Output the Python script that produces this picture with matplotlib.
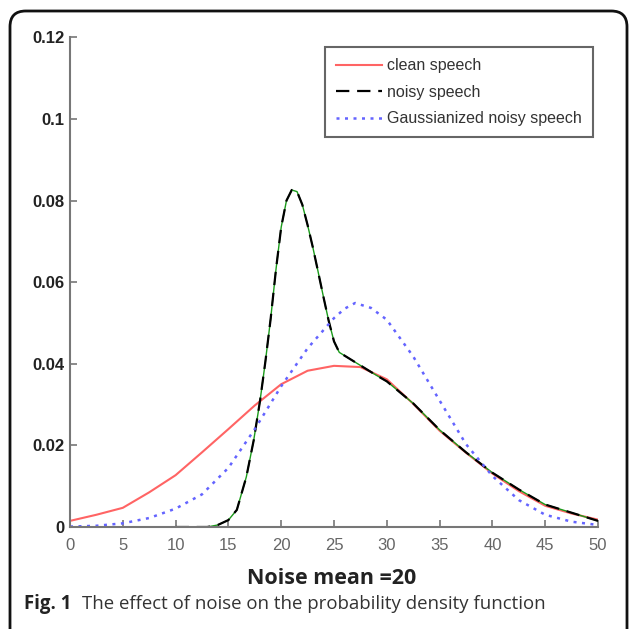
import numpy as np
import matplotlib
matplotlib.use("Agg")
import matplotlib.pyplot as plt
from matplotlib.patches import FancyBboxPatch
from matplotlib import font_manager

# data
clean_x = [0, 2.5, 5, 7.5, 10, 12.5, 15, 17.5, 20, 22.5, 25, 27.5, 30,
           32.5, 35, 37.5, 40, 42.5, 45, 47.5, 50]
clean_y = [0.0015, 0.003, 0.0047, 0.0085, 0.0127, 0.0183, 0.0240, 0.0298,
           0.0350, 0.0383, 0.0395, 0.0392, 0.0362, 0.0302, 0.0236, 0.0182,
           0.0131, 0.0088, 0.0052, 0.0033, 0.0018]

noisy_x = [10, 11, 12, 13, 14, 15, 15.8, 16.7, 17.4, 18, 18.5, 19, 19.5, 20,
           20.5, 21, 21.5, 22, 22.5, 23, 23.5, 24, 24.5, 25, 25.5, 26, 27,
           28, 29, 30, 32.5, 35, 37.5, 40, 42.5, 45, 47.5, 50]
noisy_y = [0.0, 0.0, 0.0, 0.0, 0.0005, 0.0017, 0.0042, 0.0123, 0.0213,
           0.0310, 0.0405, 0.0510, 0.0630, 0.0735, 0.0800, 0.0826, 0.0822,
           0.0790, 0.0740, 0.0685, 0.0625, 0.0564, 0.0505, 0.0455, 0.0428,
           0.0420, 0.0404, 0.0388, 0.0372, 0.0357, 0.0303, 0.0238, 0.0183,
           0.0133, 0.0092, 0.0055, 0.0035, 0.0015]

gauss_x = [0, 2.5, 5, 7.5, 10, 12.5, 15, 17.5, 20, 22.5, 25, 26, 27, 28.5,
           30, 32.5, 35, 37.5, 40, 42.5, 45, 47.5, 50]
gauss_y = [0.0001, 0.0003, 0.0009, 0.0022, 0.0045, 0.0080, 0.0145, 0.0240,
           0.0345, 0.0438, 0.0512, 0.0535, 0.0549, 0.0537, 0.0508, 0.0418,
           0.0310, 0.0203, 0.0125, 0.0066, 0.0030, 0.0013, 0.0005]

yticks = [0, 0.02, 0.04, 0.06, 0.08, 0.1, 0.12]
ytick_labels = ['0', '0.02', '0.04', '0.06', '0.08', '0.1', '0.12']
xticks = [0, 5, 10, 15, 20, 25, 30, 35, 40, 45, 50]

names = {f.name for f in font_manager.fontManager.ttflist}
narrow = 'Liberation Sans Narrow' if 'Liberation Sans Narrow' in names else 'Liberation Sans'

fig = plt.figure(figsize=(6.29, 6.29), dpi=100)
ax = fig.add_axes([70/629, 1 - 527/629, 528/629, 489.6/629])

ax.plot(clean_x, clean_y, color='#ff6464', lw=1.5, label='clean speech')
ax.plot(noisy_x, noisy_y, color='#1a9a1a', lw=1.0)
ax.plot(noisy_x, noisy_y, color='black', lw=1.6, ls=(0, (6, 3.5)), label='noisy speech')
ax.plot(gauss_x, gauss_y, color='#6464ff', lw=1.8, ls=(0, (1.2, 2.2)),
        label='Gaussianized noisy speech')

ax.set_xlim(0, 50)
ax.set_ylim(0, 0.12)
ax.set_xticks(xticks)
ax.set_yticks(yticks)
ax.set_yticklabels(ytick_labels)
for s in ['top', 'right']:
    ax.spines[s].set_visible(False)
for s in ['left', 'bottom']:
    ax.spines[s].set_color('#777777')
    ax.spines[s].set_linewidth(1.5)
ax.tick_params(direction='in', length=5, width=1.2, color='#777777')
ax.tick_params(axis='x', pad=8, labelsize=12, labelcolor='#666666')
ax.tick_params(axis='y', pad=4, labelsize=12, labelcolor='#222222')
for t in ax.get_xticklabels():
    t.set_family(narrow)
for t in ax.get_yticklabels():
    t.set_family(narrow)
    t.set_fontweight('bold')

leg = ax.legend(loc='upper right', bbox_to_anchor=(593/629, 1 - 47/629),
                bbox_transform=fig.transFigure, fancybox=False,
                prop={'family': narrow, 'size': 11.5}, handlelength=2.9,
                handletextpad=0.3, borderpad=0.7, labelspacing=0.72,
                borderaxespad=0, framealpha=1)
leg.get_frame().set_edgecolor('#666666')
leg.get_frame().set_linewidth(1.5)
for t in leg.get_texts():
    t.set_color('#333333')

fig.text(332/629, 1 - 578/629, 'Noise mean =20', ha='center', va='center',
         family='Open Sans', fontweight='bold', fontsize=15.5, color='#222222')
fig.text(24/629, 1 - 604/629, 'Fig. 1', ha='left', va='center',
         family='Open Sans', fontweight='bold', fontsize=13.4, color='#222222')
fig.text(82/629, 1 - 604/629, 'The effect of noise on the probability density function',
         ha='left', va='center', family='Open Sans', fontsize=13.4, color='#333333')

border = FancyBboxPatch((10/629, -0.1), (627 - 10)/629, 1.1 - 11/629,
                        boxstyle='round,pad=0,rounding_size=0.025',
                        transform=fig.transFigure, fill=False,
                        edgecolor='#111111', lw=2, clip_on=False)
fig.patches.append(border)

fig.savefig('out.png', dpi=100)
